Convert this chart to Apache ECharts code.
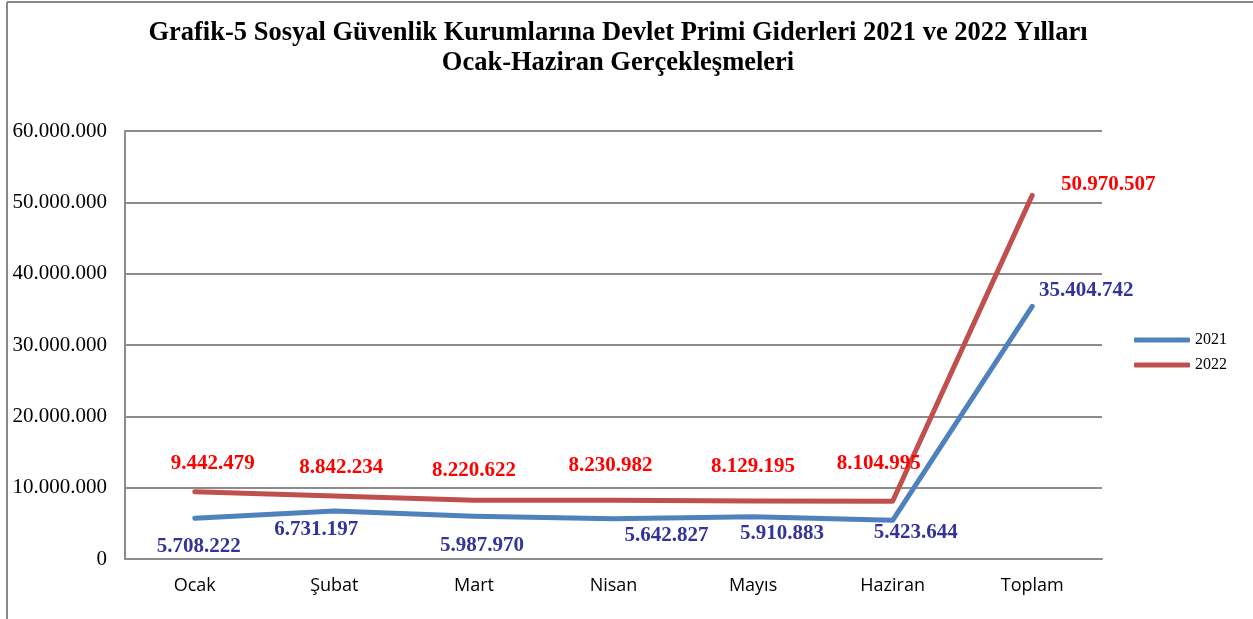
<!DOCTYPE html>
<html>
<head>
<meta charset="utf-8">
<script src="https://cdn.jsdelivr.net/npm/echarts@6/dist/echarts.min.js"></script>
<style>
  html, body { margin: 0; padding: 0; background: #fff; }
  #main { width: 1253px; height: 619px; }
</style>
</head>
<body>
<div id="main"></div>
<script>
// 月份
var months = ['Ocak', 'Şubat', 'Mart', 'Nisan', 'Mayıs', 'Haziran', 'Toplam'];
// 2021 年数据
var values2021 = [5708222, 6731197, 5987970, 5642827, 5910883, 5423644, 35404742];
// 2022 年数据
var values2022 = [9442479, 8842234, 8220622, 8230982, 8129195, 8104995, 50970507];
// 纵坐标刻度
var yTicks = [0, 10000000, 20000000, 30000000, 40000000, 50000000, 60000000];

// 标签偏移
var offsets2021 = [[4, 28], [-18, 19], [8, 29], [53, 17], [29, 17], [23, 12], [54, -16]];
var offsets2022 = [[18, -28], [7, -28], [0, -30], [-3, -35], [0, -34], [-14, -38], [76, -11]];

// 千分位用点号
function fmt (v) {
  return String(v).replace(/\B(?=(\d{3})+(?!\d))/g, '.');
}

function buildData (values, offsets, color) {
  return values.map(function (v, i) {
    return {
      value: v,
      label: {
        show: true,
        offset: offsets[i],
        position: 'inside',
        color: color,
        fontFamily: 'Liberation Serif',
        fontWeight: 'bold',
        fontSize: 21,
        formatter: function (p) { return fmt(p.value); }
      }
    };
  });
}

var myChart = echarts.init(document.getElementById('main'));
var option = {
  animation: false,
  title: {
    text: 'Grafik-5 Sosyal Güvenlik Kurumlarına Devlet Primi Giderleri 2021 ve 2022 Yılları\nOcak-Haziran Gerçekleşmeleri',
    left: 613,
    top: 13,
    textAlign: 'center',
    textStyle: {
      fontFamily: 'Liberation Serif',
      fontWeight: 'bold',
      fontSize: 26.5,
      lineHeight: 30,
      color: '#000'
    }
  },
  legend: {
    orient: 'vertical',
    left: 1129,
    top: 327,
    itemWidth: 56,
    itemHeight: 5,
    itemGap: 9,
    icon: 'roundRect',
    textStyle: { fontFamily: 'Liberation Serif', fontSize: 16, color: '#000' },
    data: ['2021', '2022']
  },
  grid: { left: 125, top: 131, width: 977, height: 428 },
  xAxis: {
    type: 'category',
    data: months,
    boundaryGap: true,
    axisTick: { show: false },
    axisLine: { lineStyle: { color: '#8c8c8c', width: 2 } },
    axisLabel: { margin: 18, fontFamily: 'Open Sans', fontSize: 18, color: '#000' }
  },
  yAxis: {
    type: 'value',
    min: yTicks[0],
    max: yTicks[yTicks.length - 1],
    interval: 10000000,
    axisLine: { show: true, lineStyle: { color: '#8c8c8c', width: 2 } },
    axisTick: { show: false },
    splitLine: { lineStyle: { color: '#8c8c8c', width: 2 } },
    axisLabel: {
      margin: 18,
      fontFamily: 'Liberation Serif',
      fontSize: 21,
      color: '#000',
      formatter: function (v) { return fmt(v); }
    }
  },
  series: [
    {
      name: '2021',
      type: 'line',
      data: buildData(values2021, offsets2021, '#333399'),
      symbol: 'circle',
      symbolSize: 0,
      showSymbol: true,
      color: '#4F81BD',
      lineStyle: { width: 5, cap: 'round', join: 'round' }
    },
    {
      name: '2022',
      type: 'line',
      data: buildData(values2022, offsets2022, '#FF0000'),
      symbol: 'circle',
      symbolSize: 0,
      showSymbol: true,
      color: '#C0504D',
      lineStyle: { width: 5, cap: 'round', join: 'round' }
    }
  ],
  // 外框
  graphic: [
    { type: 'line', shape: { x1: 7, y1: 2, x2: 1253, y2: 2 }, style: { stroke: '#888', lineWidth: 2 } },
    { type: 'line', shape: { x1: 7, y1: 2, x2: 7, y2: 619 }, style: { stroke: '#888', lineWidth: 2 } }
  ]
};
myChart.setOption(option);
</script>
</body>
</html>
